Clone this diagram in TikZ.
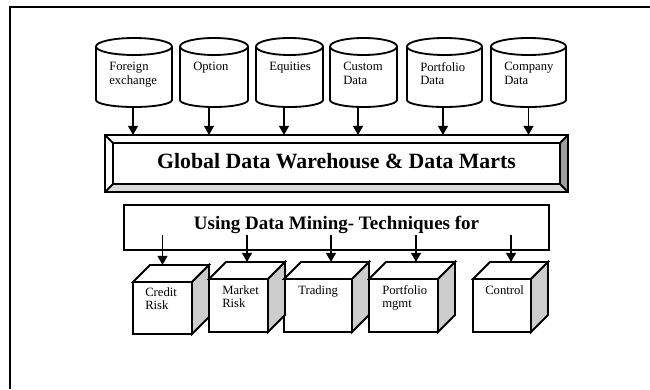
\documentclass[tikz,border=0pt]{standalone}
\usepackage{fontspec}
\setmainfont{Liberation Serif}
\usetikzlibrary{arrows.meta}
\def\pxl{0.025cm}
\tikzstyle{frame} = [line width=1.7pt]
\tikzstyle{outline} = [line width=1.3pt]
\tikzstyle{line} = [draw, line width=1.3pt, -{Triangle[length=6.5pt,width=7pt]}]
\tikzstyle{drumbody} = [rectangle, draw=none, minimum height=60.5*\pxl, inner sep=0pt, outer sep=0pt]
\tikzstyle{lbl} = [anchor=north west, inner sep=0pt, align=left, font=\fontsize{9}{9.6}\selectfont]
\tikzstyle{cube} = [rectangle, draw, outline, fill=white, inner sep=0pt, outer sep=0pt]
\tikzstyle{banner} = [rectangle, fill=white, inner sep=0pt, outer sep=0pt,
    minimum width=463*\pxl, minimum height=57*\pxl, text depth=4pt,
    font=\fontsize{15.5}{18}\selectfont\bfseries]
\tikzstyle{usebox} = [rectangle, draw, outline, fill=white, inner sep=0pt, outer sep=0pt,
    minimum width=425*\pxl, minimum height=45*\pxl, text depth=6pt,
    font=\fontsize{13.5}{16}\selectfont\bfseries]
% database drum: name, centre x, width, text
\newcommand{\drum}[4]{%
  \node[drumbody, minimum width=#3*\pxl] (#1) at (#2,312.25) {};
  \draw[outline, fill=white] (#1.north west) -- ([yshift=7*\pxl]#1.south west)
    arc[start angle=180, end angle=360, x radius=#3*\pxl/2, y radius=7*\pxl] -- (#1.north east);
  \draw[outline, fill=white] (#1.north) ellipse[x radius=#3*\pxl/2, y radius=8.5*\pxl];
  \node[lbl] (#1-txt) at ([shift={(13,-15.5)}]#1.north west) {#4};
}
% top and side faces of a cube
\newcommand{\cubefaces}[1]{%
  \draw[outline, fill=white] (#1.north west) -- ++(17,17) -- ([shift={(17,17)}]#1.north east)
    -- (#1.north east) -- cycle;
  \draw[outline, fill=gray!40] (#1.north east) -- ++(17,17) -- ([shift={(17,17)}]#1.south east)
    -- (#1.south east) -- cycle;
}

\begin{document}
\begin{tikzpicture}[x=\pxl, y=\pxl]
    \useasboundingbox (0,0) rectangle (650,389);
    \draw[frame] (10,0) -- (10,382) -- (650,382);

    % Place data sources
    \drum{fx}{134}{76}{Foreign\\exchange}
    \drum{opt}{214}{68}{Option}
    \drum{eq}{289.5}{67}{Equities}
    \drum{cust}{363.5}{67}{Custom\\Data}
    \drum{port}{444.5}{75}{Portfolio\\Data}
    \drum{comp}{528.5}{75}{Company\\Data}

    % Warehouse with bevel
    \node[banner] (wh) at (336.5,225.5) {Global Data Warehouse \& Data Marts};
    \path[fill=gray!30] (wh.south west) -- ++(8,8) -- ([shift={(-8,8)}]wh.south east) -- (wh.south east) -- cycle;
    \path[fill=gray!75] (wh.south east) -- ([shift={(-8,8)}]wh.south east) -- ([shift={(-8,-8)}]wh.north east) -- (wh.north east) -- cycle;
    \draw[outline] ([shift={(8,-8)}]wh.north west) rectangle ([shift={(-8,8)}]wh.south east);
    \draw[outline] (wh.north west) -- ++(8,-8);
    \draw[outline] (wh.north east) -- ++(-8,-8);
    \draw[outline] (wh.south west) -- ++(8,8);
    \draw[outline] (wh.south east) -- ++(-8,8);
    \draw[outline] (wh.north west) rectangle (wh.south east);

    % Mining techniques
    \node[usebox] (dm) at (336.5,161.5) {Using Data Mining- Techniques for};
    \coordinate (tap) at (0,154);

    % Place cubes
    \node[cube, minimum width=59*\pxl, minimum height=52*\pxl] (cr) at (162.5,81) {};
    \node[cube, minimum width=59*\pxl, minimum height=53*\pxl] (mk) at (238.5,83.5) {};
    \node[cube, minimum width=68*\pxl, minimum height=53*\pxl] (tr) at (318,83.5) {};
    \node[cube, minimum width=69*\pxl, minimum height=53*\pxl] (pm) at (403.5,83.5) {};
    \node[cube, minimum width=58*\pxl, minimum height=53*\pxl] (ctl) at (502,83.5) {};
    \cubefaces{cr}
    \cubefaces{mk}
    \cubefaces{tr}
    \cubefaces{pm}
    \cubefaces{ctl}
    \node[lbl] (cr-txt) at ([shift={(12,-5)}]cr.north west) {Credit\\Risk};
    \node[lbl] (mk-txt) at ([shift={(13,-6)}]mk.north west) {Market\\Risk};
    \node[lbl] (tr-txt) at ([shift={(14,-6)}]tr.north west) {Trading};
    \node[lbl] (pm-txt) at ([shift={(13,-6)}]pm.north west) {Portfolio\\mgmt};
    \node[lbl] (ctl-txt) at ([shift={(12,-6)}]ctl.north west) {Control};

    % Draw edges
    \path[line] ([xshift=-1*\pxl]fx.south) -- ([xshift=-1*\pxl]fx.south |- wh.north);
    \path[line] ([xshift=-5*\pxl]opt.south) -- ([xshift=-5*\pxl]opt.south |- wh.north);
    \path[line] ([xshift=-5.5*\pxl]eq.south) -- ([xshift=-5.5*\pxl]eq.south |- wh.north);
    \path[line] ([xshift=-5.5*\pxl]cust.south) -- ([xshift=-5.5*\pxl]cust.south |- wh.north);
    \path[line] ([xshift=-1.5*\pxl]port.south) -- ([xshift=-1.5*\pxl]port.south |- wh.north);
    \path[line] (comp.south) -- (comp.south |- wh.north);

    \path[line] (cr.north |- tap) -- ([yshift=17*\pxl]cr.north);
    \path[line] ([xshift=8.5*\pxl]mk.north |- tap) -- ([shift={(8.5,17)}]mk.north);
    \path[line] ([xshift=13*\pxl]tr.north |- tap) -- ([shift={(13,17)}]tr.north);
    \path[line] ([xshift=12.5*\pxl]pm.north |- tap) -- ([shift={(12.5,17)}]pm.north);
    \path[line] ([xshift=9*\pxl]ctl.north |- tap) -- ([shift={(9,17)}]ctl.north);
\end{tikzpicture}
\end{document}
